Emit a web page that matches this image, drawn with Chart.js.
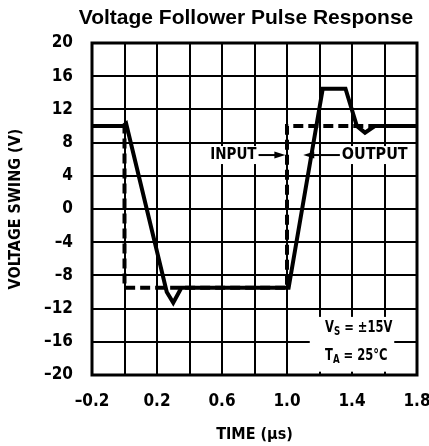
<!DOCTYPE html>
<html>
<head>
<meta charset="utf-8">
<script src="https://cdn.jsdelivr.net/npm/chart.js@4/dist/chart.umd.min.js"></script>
<style>
    html, body { margin: 0; padding: 0; background: #fff; }
    #wrap { width: 429px; height: 446px; }
</style>
</head>
<body>
<div id="wrap"><canvas id="chart" width="429" height="446"></canvas></div>
<script>
// input pulse (dashed) and follower output (solid), time in µs, volts
const inputTime = [-0.2, 0.0, 0.0, 1.0, 1.0, 1.8];
const inputVolts = [10, 10, -9.5, -9.5, 10, 10];
const outputTime = [-0.2, -0.01, 0.01, 0.26, 0.30, 0.35, 1.0, 1.01, 1.22, 1.36, 1.43, 1.48, 1.54, 1.8];
const outputVolts = [10, 10, 10.3, -10, -11.3, -9.5, -9.5, -9.5, 14.5, 14.5, 10, 9.2, 10, 10];
const xTickLabels = ["–0.2", "", "0.2", "", "0.6", "", "1.0", "", "1.4", "", "1.8"];
const yTickLabels = ["–20", "–16", "–12", "–8", "–4", "0", "4", "8", "12", "16", "20"];

const narrow = "'Liberation Sans Narrow', 'DejaVu Sans Condensed', sans-serif";

function toPoints(xs, ys) {
    return xs.map((x, i) => ({ x: x, y: ys[i] }));
}

const overlay = {
    id: "overlay",
    afterDraw(chart) {
        const ctx = chart.ctx;
        const area = chart.chartArea;
        const xs = chart.scales.x;
        const ys = chart.scales.y;
        ctx.save();

        // frame
        ctx.strokeStyle = "#000";
        ctx.lineWidth = 3;
        ctx.strokeRect(area.left, area.top, area.right - area.left, area.bottom - area.top);

        // title
        ctx.fillStyle = "#000";
        ctx.font = "bold 21px 'Liberation Sans', Arial, sans-serif";
        ctx.textAlign = "center";
        ctx.textBaseline = "alphabetic";
        ctx.fillText("Voltage Follower Pulse Response", 246, 24);

        // INPUT -> label
        const ly = ys.getPixelForValue(6.5);
        ctx.font = "bold 15px " + narrow;
        ctx.textBaseline = "middle";
        const inX = xs.getPixelForValue(0.67);
        const inW = ctx.measureText("INPUT").width;
        ctx.fillStyle = "#fff";
        ctx.fillRect(inX - inW / 2 - 3, ly - 9, inW + 6, 18);
        ctx.fillStyle = "#000";
        ctx.textAlign = "center";
        ctx.fillText("INPUT", inX, ly);
        drawArrow(ctx, inX + inW / 2 + 2, xs.getPixelForValue(0.99), ly);

        // <- OUTPUT label
        ctx.font = "bold 16px " + narrow;
        const outX = xs.getPixelForValue(1.54);
        const outW = ctx.measureText("OUTPUT").width;
        ctx.fillStyle = "#fff";
        ctx.fillRect(outX - outW / 2 - 3, ly - 9, outW + 6, 18);
        ctx.fillStyle = "#000";
        ctx.fillText("OUTPUT", outX, ly);
        drawArrow(ctx, outX - outW / 2 - 2, xs.getPixelForValue(1.10), ly);

        // conditions box
        const bx0 = xs.getPixelForValue(1.14);
        const bx1 = xs.getPixelForValue(1.66);
        const by0 = ys.getPixelForValue(-13.0);
        const by1 = ys.getPixelForValue(-19.6);
        ctx.fillStyle = "#fff";
        ctx.fillRect(bx0, by0, bx1 - bx0, by1 - by0);
        ctx.fillStyle = "#000";
        ctx.textAlign = "left";
        ctx.textBaseline = "alphabetic";
        const cx = xs.getPixelForValue(1.234);
        drawSub(ctx, cx, ys.getPixelForValue(-14.8), "V", "S", " = ±15V");
        drawSub(ctx, cx, ys.getPixelForValue(-18.2), "T", "A", " = 25°C");
        ctx.restore();
    }
};

// condensed text with a subscript, squeezed to the narrow lettering of the original
function drawSub(ctx, x, y, main, sub, rest) {
    const k = 0.8;
    ctx.save();
    ctx.translate(x, y);
    ctx.scale(k, 1);
    ctx.font = "bold 16px " + narrow;
    ctx.fillText(main, 0, 0);
    let w = ctx.measureText(main).width;
    ctx.font = "bold 12px " + narrow;
    ctx.fillText(sub, w, 3);
    w += ctx.measureText(sub).width;
    ctx.font = "bold 16px " + narrow;
    ctx.fillText(rest, w, 0);
    ctx.restore();
}

function drawArrow(ctx, from, to, y) {
    const dir = to > from ? 1 : -1;
    ctx.strokeStyle = "#000";
    ctx.lineWidth = 2;
    ctx.beginPath();
    ctx.moveTo(from, y);
    ctx.lineTo(to - dir * 8, y);
    ctx.stroke();
    ctx.beginPath();
    ctx.moveTo(to, y);
    ctx.lineTo(to - dir * 11, y - 3.5);
    ctx.lineTo(to - dir * 11, y + 3.5);
    ctx.closePath();
    ctx.fill();
}

new Chart(document.getElementById("chart"), {
    type: "line",
    data: {
        datasets: [
            {
                label: "Output",
                data: toPoints(outputTime, outputVolts),
                borderColor: "#000",
                borderWidth: 4,
                pointRadius: 0,
                tension: 0,
            },
            {
                label: "Input",
                data: toPoints(inputTime, inputVolts),
                borderColor: "#000",
                borderWidth: 4,
                borderDash: [10, 5],
                pointRadius: 0,
                tension: 0,
            },
        ],
    },
    options: {
        responsive: false,
        animation: false,
        layout: { padding: { top: 43, right: 12, left: 0, bottom: 0 } },
        plugins: {
            legend: { display: false },
            tooltip: { enabled: false },
            title: { display: false },
        },
        scales: {
            x: {
                type: "linear",
                min: -0.2,
                max: 1.8,
                afterFit: (scale) => {
                    scale.height = 71;
                    scale.paddingLeft = 0;
                    scale.paddingRight = 0;
                },
                grid: { color: "#000", lineWidth: 2, drawTicks: false },
                border: { display: false },
                ticks: {
                    stepSize: 0.2,
                    padding: 16,
                    maxRotation: 0,
                    autoSkip: false,
                    color: "#000",
                    font: { family: narrow, size: 17, weight: "bold" },
                    callback: (v, i) => xTickLabels[i],
                },
                title: {
                    display: true,
                    text: "TIME (µs)",
                    color: "#000",
                    font: { family: narrow, size: 16, weight: "bold" },
                    padding: { top: 0, bottom: 2 },
                },
            },
            y: {
                min: -20,
                max: 20,
                afterFit: (scale) => { scale.width = 92; },
                grid: { color: "#000", lineWidth: 2, drawTicks: false },
                border: { display: false },
                ticks: {
                    stepSize: 4,
                    padding: 19,
                    autoSkip: false,
                    color: "#000",
                    font: { family: narrow, size: 17, weight: "bold" },
                    callback: (v, i) => yTickLabels[i],
                },
                title: {
                    display: true,
                    text: "VOLTAGE SWING (V)",
                    color: "#000",
                    font: { family: narrow, size: 16, weight: "bold" },
                    padding: { top: 6, bottom: 0 },
                },
            },
        },
    },
    plugins: [overlay],
});
</script>
</body>
</html>
